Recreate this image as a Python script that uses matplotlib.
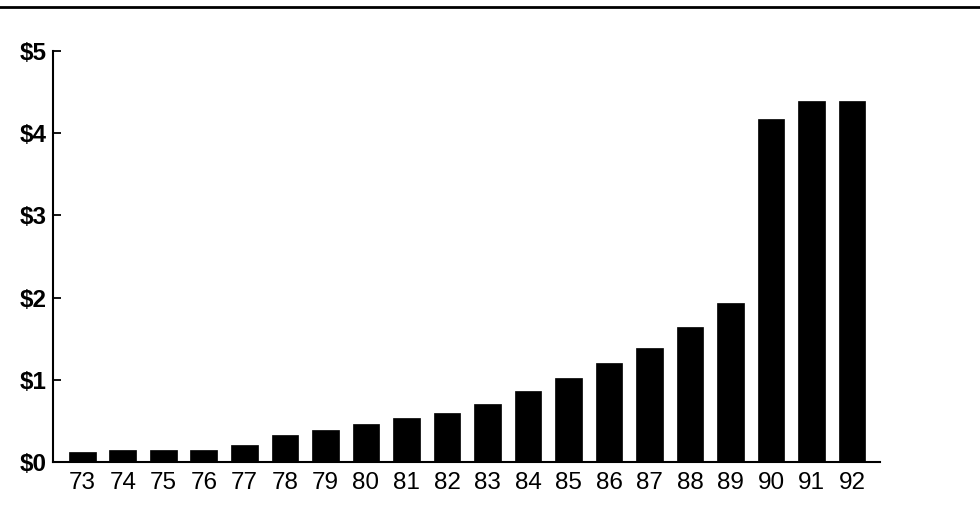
import matplotlib
matplotlib.use("Agg")
import matplotlib.pyplot as plt
from matplotlib.lines import Line2D

years = ["73", "74", "75", "76", "77", "78", "79", "80", "81", "82",
         "83", "84", "85", "86", "87", "88", "89", "90", "91", "92"]
values = [0.12, 0.15, 0.15, 0.145, 0.21, 0.33, 0.39, 0.47, 0.535, 0.595,
          0.71, 0.87, 1.03, 1.21, 1.385, 1.64, 1.93, 4.175, 4.395, 4.395]
ytick_vals = [0, 1, 2, 3, 4, 5]
ytick_labels = ["$0", "$1", "$2", "$3", "$4", "$5"]

plt.rcParams['font.family'] = ['Liberation Sans', 'DejaVu Sans']

fig = plt.figure(figsize=(9.8, 5.13), dpi=100)
ax = fig.add_axes([0.0544, 0.0988, 0.898 - 0.0544, 0.901 - 0.0988])

x = list(range(len(years)))
ax.bar(x, values, width=0.66, color="black", edgecolor="black", linewidth=0.5)

ax.set_xlim(-0.716, len(years) - 1 + 0.69)
ax.set_ylim(0, 5)
ax.set_xticks(x)
ax.set_xticklabels(years, fontsize=17.5)
ax.set_yticks(ytick_vals)
ax.set_yticklabels(ytick_labels, fontsize=17.5, fontweight="bold")

ax.tick_params(axis="x", length=0, pad=7)
ax.tick_params(axis="y", direction="in", length=6, width=1.3, pad=5)

for s in ["top", "right"]:
    ax.spines[s].set_visible(False)
for s in ["left", "bottom"]:
    ax.spines[s].set_linewidth(1.5)

fig.add_artist(Line2D([0, 1], [1 - 7 / 513, 1 - 7 / 513], color="black",
                      linewidth=2.0, transform=fig.transFigure))

fig.savefig("out.png", dpi=100)
